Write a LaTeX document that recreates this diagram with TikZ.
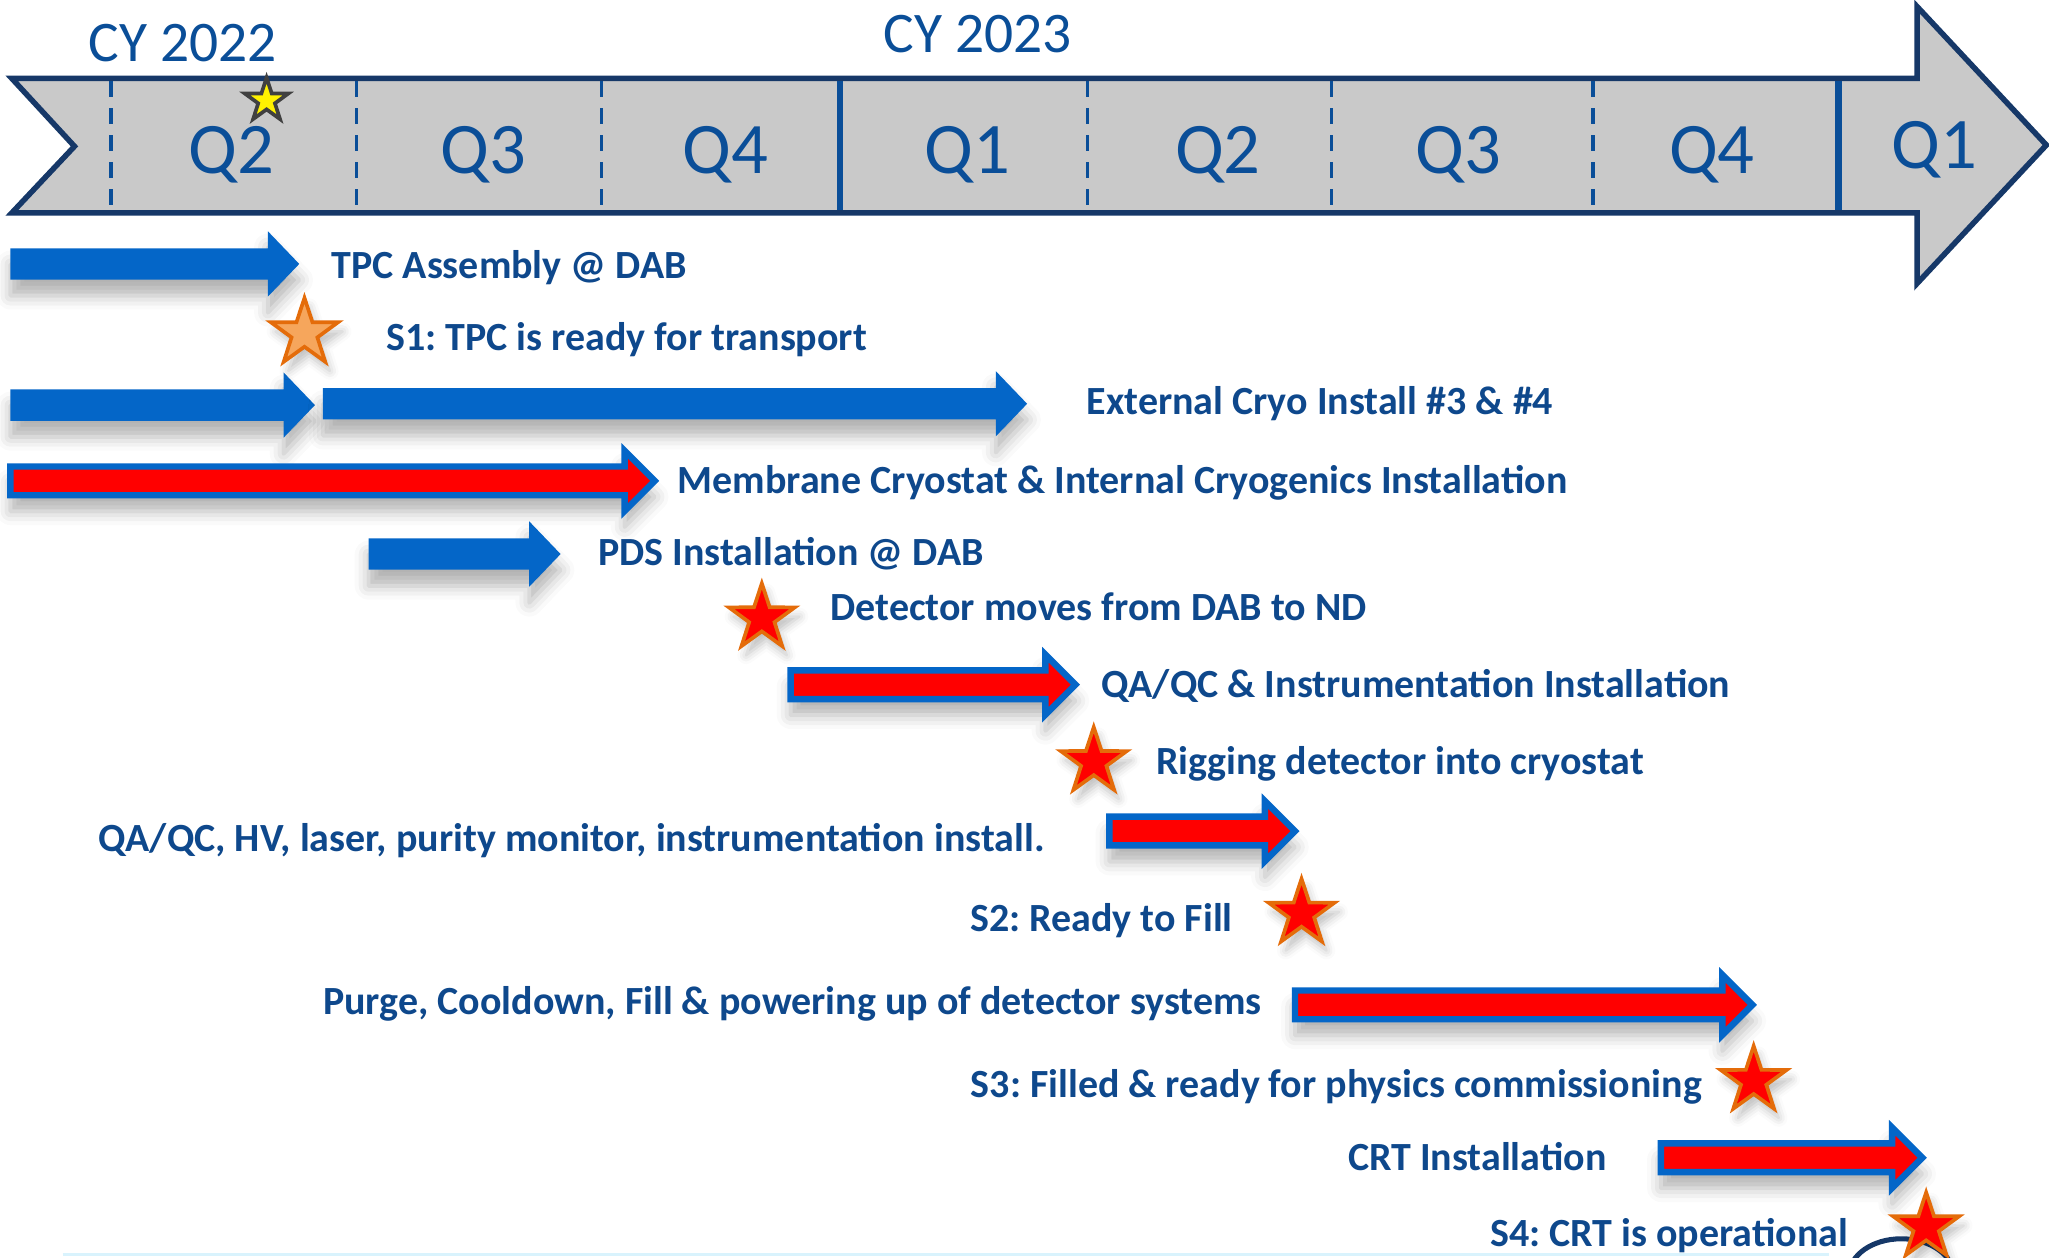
\documentclass[tikz,border=0pt]{standalone}
\usepackage{fontspec}
\setmainfont{Carlito}
\usepackage{tikz}
\usetikzlibrary{shapes.geometric,shadows.blur}
\usepackage{xcolor}
\definecolor{bandgray}{RGB}{201,201,201}
\definecolor{navy}{RGB}{22,56,104}
\definecolor{qblue}{RGB}{10,78,152}
\definecolor{txtblue}{RGB}{14,72,140}
\definecolor{barblue}{RGB}{4,102,200}
\definecolor{starorange}{RGB}{228,108,10}
\definecolor{sonefill}{RGB}{246,166,92}
\frenchspacing

\tikzset{
  quarter/.style={text=qblue, font=\fontsize{15.8}{18}\selectfont, anchor=base, inner sep=0pt},
  year/.style={text=qblue, font=\fontsize{12.5}{15}\selectfont, anchor=base, inner sep=0pt},
  lbl/.style={text=txtblue, font=\bfseries\fontsize{8.7}{10}\selectfont, inner sep=0pt},
  qdash/.style={draw=qblue, line width=0.7pt, dash pattern=on 3.4pt off 2.5pt},
  ysep/.style={draw=qblue, line width=1.4pt},
  barshadow/.style={blur shadow={shadow xshift=0pt, shadow yshift=-3.5pt, shadow blur radius=3pt, shadow opacity=30}},
  bluebar/.style={fill=barblue, barshadow},
  redbar/.style={fill=red, draw=barblue, line width=1.4pt, line join=miter, barshadow},
  milestone/.style={star, star points=5, star point ratio=2.6, inner sep=0pt, minimum size=0.53cm,
    fill=red, draw=starorange, line width=0.8pt, blur shadow={shadow xshift=1pt, shadow yshift=-2pt, shadow opacity=25}}
}

\begin{document}
\begin{tikzpicture}[x=0.01cm, y=-0.01cm]
        \useasboundingbox (0,0) rectangle (1568,962);
        \clip (0,0) rectangle (1568,962);

        \filldraw[fill=bandgray, draw=navy, line width=1.2pt, line join=miter]
            (9,60) -- (1467,60) -- (1467,5) -- (1566,111) -- (1467,217) -- (1467,163) -- (9,163) -- (57,112) -- cycle;
        \foreach \x in {85, 273, 460, 832, 1019, 1219}
            \draw[qdash] (\x,62) -- (\x,161);
        \foreach \x in {643, 1407}
            \draw[ysep] (\x,62) -- (\x,161);
        \foreach \x/\q in {177/2, 370/3, 555/4, 740/1, 932/2, 1116/3, 1310/4}
            \node[quarter] (q\x) at (\x,133) {Q\q};
        \node[quarter] (qnext) at (1480,129) {Q1};
        \node[year] (cyone) at (140,47) {CY 2022};
        \node[year] (cytwo) at (748,40) {CY 2023};
        \node[star, star points=5, star point ratio=2.6, inner sep=0pt, minimum size=0.35cm,
            fill=yellow, draw=darkgray, line width=0.8pt] (now) at (204,77) {};

        \foreach \xa/\xb/\yc in {8/205/202, 8/217/310, 247/762/309, 282/405/424}
            \fill[bluebar] (\xa,\yc-12) -- (\xb,\yc-12) -- (\xb,\yc-25) -- (\xb+24,\yc) -- (\xb,\yc+25) -- (\xb,\yc+12) -- (\xa,\yc+12) -- cycle;
        \foreach \xa/\xb/\yc in {8/478/368, 605/800/524, 849/968/636, 991/1318/769, 1271/1448/886}
            \filldraw[redbar] (\xa,\yc-11) -- (\xb,\yc-11) -- (\xb,\yc-23) -- (\xb+23,\yc) -- (\xb,\yc+23) -- (\xb,\yc+11) -- (\xa,\yc+11) -- cycle;

        \draw[cyan!15, line width=0.8pt] (48,960) -- (1400,960);
        \draw[navy, line width=1.1pt] (1455,976) ellipse (40 and 28);

        \node[milestone, minimum size=0.54cm, fill=sonefill] (sonestar) at (233,255) {};
        \node[milestone] (movestar) at (583,473) {};
        \node[milestone] (rigstar) at (837,583) {};
        \node[milestone] (stwostar) at (996,699) {};
        \node[milestone] (sthreestar) at (1342,827) {};
        \node[milestone] (sfourstar) at (1474,939) {};

        \node[lbl, anchor=base west] (tpc) at (253,213) {TPC Assembly @ DAB};
        \node[lbl, anchor=base west] (sone) at (295,268) {S1: TPC is ready for transport};
        \node[lbl, anchor=base west] (cryo) at (831,317) {External Cryo Install \#3 \& \#4};
        \node[lbl, anchor=base west] (membrane) at (518,378) {Membrane Cryostat \& Internal Cryogenics Installation};
        \node[lbl, anchor=base west] (pds) at (457,433) {PDS Installation @ DAB};
        \node[lbl, anchor=base west] (move) at (635,475) {Detector moves from DAB to ND};
        \node[lbl, anchor=base west] (qaqc) at (842,534) {QA/QC \& Instrumentation Installation};
        \node[lbl, anchor=base west] (rig) at (884,593) {Rigging detector into cryostat};
        \node[lbl, anchor=base east] (install) at (800,652) {QA/QC, HV, laser, purity monitor, instrumentation install.};
        \node[lbl, anchor=base east] (stwo) at (944,713) {S2: Ready to Fill};
        \node[lbl, anchor=base east] (purge) at (966,776) {Purge, Cooldown, Fill \& powering up of detector systems};
        \node[lbl, anchor=base east] (sthree) at (1303,840) {S3: Filled \& ready for physics commissioning};
        \node[lbl, anchor=base east] (crt) at (1230,896) {CRT Installation};
        \node[lbl, anchor=base east] (sfour) at (1415,954) {S4: CRT is operational};
    \end{tikzpicture}
\end{document}
